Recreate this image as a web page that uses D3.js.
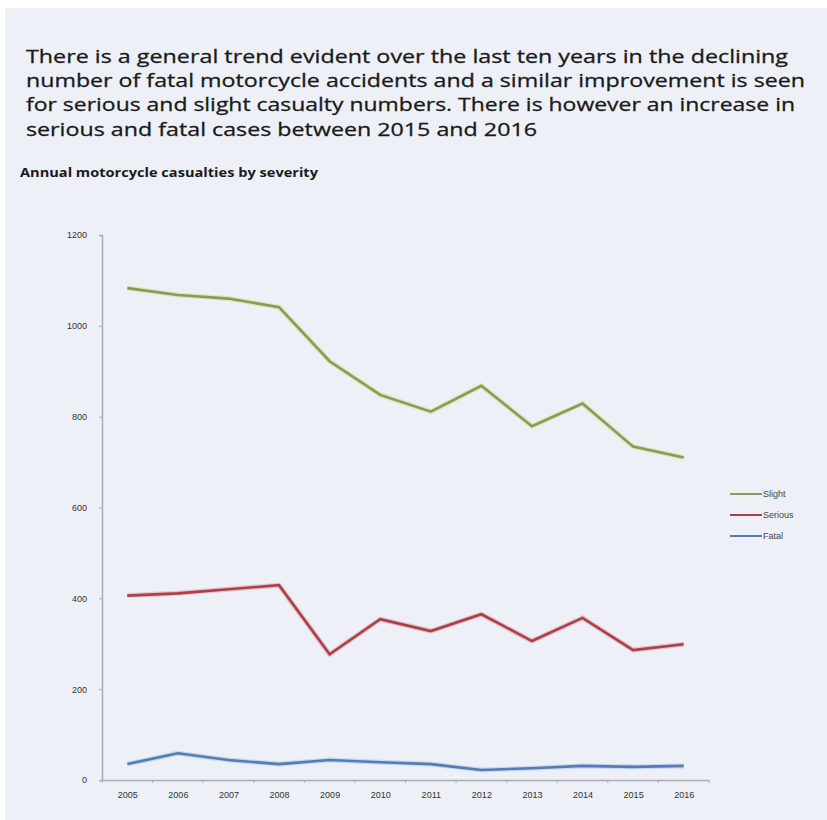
<!DOCTYPE html>
<html>
<head>
<meta charset="utf-8">
<script src="https://cdn.jsdelivr.net/npm/d3@7"></script>
<style>
  html, body { margin: 0; padding: 0; background: #ffffff; }
  svg { display: block; }
</style>
</head>
<body>
<svg width="827" height="820"></svg>
<script>
const years = ["2005", "2006", "2007", "2008", "2009", "2010", "2011", "2012", "2013", "2014", "2015", "2016"];
const slight = [1083, 1068, 1060, 1041, 922, 848, 811, 868, 779, 829, 734, 710];
const serious = [406, 411, 420, 429, 277, 354, 328, 365, 306, 357, 286, 299];
const fatal = [35, 59, 44, 35, 44, 39, 35, 22, 26, 31, 29, 31];
const yTicks = [0, 200, 400, 600, 800, 1000, 1200];
const seriesNames = ["Slight", "Serious", "Fatal"];

const headline = [
    "There is a general trend evident over the last ten years in the declining",
    "number of fatal motorcycle accidents and a similar improvement is seen",
    "for serious and slight casualty numbers. There is however an increase in",
    "serious and fatal cases between 2015 and 2016"
];
const headlineWidths = [762, 779, 769, 511];
const chartTitle = "Annual motorcycle casualties by severity";

const svg = d3.select("svg");
const width = 827, height = 820;

// page background (slightly off the edges, like the screenshot)
svg.append("rect")
    .attr("x", 5).attr("y", 8)
    .attr("width", width - 5).attr("height", height - 8)
    .attr("fill", "#edf0f6");

// headline text
svg.append("g").selectAll("text")
    .data(headline).enter().append("text")
    .attr("x", 26)
    .attr("y", (d, i) => 63 + i * 24.2)
    .attr("textLength", (d, i) => headlineWidths[i])
    .attr("lengthAdjust", "spacingAndGlyphs")
    .style("font-family", "'Open Sans', sans-serif")
    .style("font-size", "19px")
    .style("fill", "#1a1a1a")
    .style("stroke", "#1a1a1a")
    .style("stroke-width", 0.3)
    .text(d => d);

svg.append("text")
    .attr("x", 20)
    .attr("y", 177)
    .attr("textLength", 298)
    .attr("lengthAdjust", "spacingAndGlyphs")
    .style("font-family", "'Open Sans', sans-serif")
    .style("font-size", "11.5px")
    .style("font-weight", "bold")
    .style("fill", "#1a1a1a")
    .text(chartTitle);

// scales
const x = d3.scalePoint()
    .domain(years)
    .range([102, 709])
    .padding(0.5);

const y = d3.scaleLinear()
    .domain([0, 1200])
    .range([780, 235]);

const axisColor = "#a9adb3";
const labelStyle = g => g.selectAll("text")
    .style("font-family", "'Liberation Sans', sans-serif")
    .style("font-size", "9px")
    .style("fill", "#333");

// y axis
const yAxis = svg.append("g")
    .attr("transform", "translate(102,0)")
    .call(d3.axisLeft(y).tickValues(yTicks).tickSize(3).tickPadding(12).tickFormat(d3.format("d")));
yAxis.select(".domain").attr("stroke", axisColor).attr("stroke-width", 1.5);
yAxis.selectAll(".tick line").attr("stroke", axisColor);
yAxis.call(labelStyle);

// x axis: domain plus tick marks between categories
const xAxis = svg.append("g")
    .attr("transform", "translate(0,780)")
    .call(d3.axisBottom(x).tickSize(0).tickPadding(12));
xAxis.select(".domain").attr("stroke", axisColor).attr("stroke-width", 1.5);
xAxis.call(labelStyle);
xAxis.selectAll(".tick text").attr("dy", "0.35em").attr("y", 15);

const step = x.step();
svg.append("g").selectAll("line")
    .data(d3.range(years.length + 1)).enter().append("line")
    .attr("x1", d => 102 + d * step)
    .attr("x2", d => 102 + d * step)
    .attr("y1", 780)
    .attr("y2", 783)
    .attr("stroke", axisColor);

// series lines
const series = [
    { name: "Slight", values: slight, color: "#8a9a58", glow: "#dde6b8" },
    { name: "Serious", values: serious, color: "#a9404c", glow: "#e8c3c8" },
    { name: "Fatal", values: fatal, color: "#557cb4", glow: "#c9d8ef" }
];

const line = d3.line()
    .x((d, i) => x(years[i]))
    .y(d => y(d));

const lines = svg.append("g");
series.forEach(s => {
    lines.append("path")
        .datum(s.values)
        .attr("fill", "none")
        .attr("stroke", s.glow)
        .attr("stroke-width", 5)
        .attr("stroke-linejoin", "round")
        .attr("d", line);
    lines.append("path")
        .datum(s.values)
        .attr("fill", "none")
        .attr("stroke", s.color)
        .attr("stroke-width", 2.6)
        .attr("stroke-linejoin", "miter")
        .attr("d", line);
});

// legend
const legend = svg.append("g").attr("transform", "translate(730,494)");
const item = legend.selectAll("g")
    .data(series).enter().append("g")
    .attr("transform", (d, i) => `translate(0, ${i * 21})`);
item.append("line")
    .attr("x1", 0).attr("x2", 32)
    .attr("stroke", d => d.color)
    .attr("stroke-width", 2);
item.append("text")
    .attr("x", 33)
    .attr("dy", "0.35em")
    .style("font-family", "'Liberation Sans', sans-serif")
    .style("font-size", "9px")
    .style("fill", "#444")
    .text(d => d.name);
</script>
</body>
</html>
